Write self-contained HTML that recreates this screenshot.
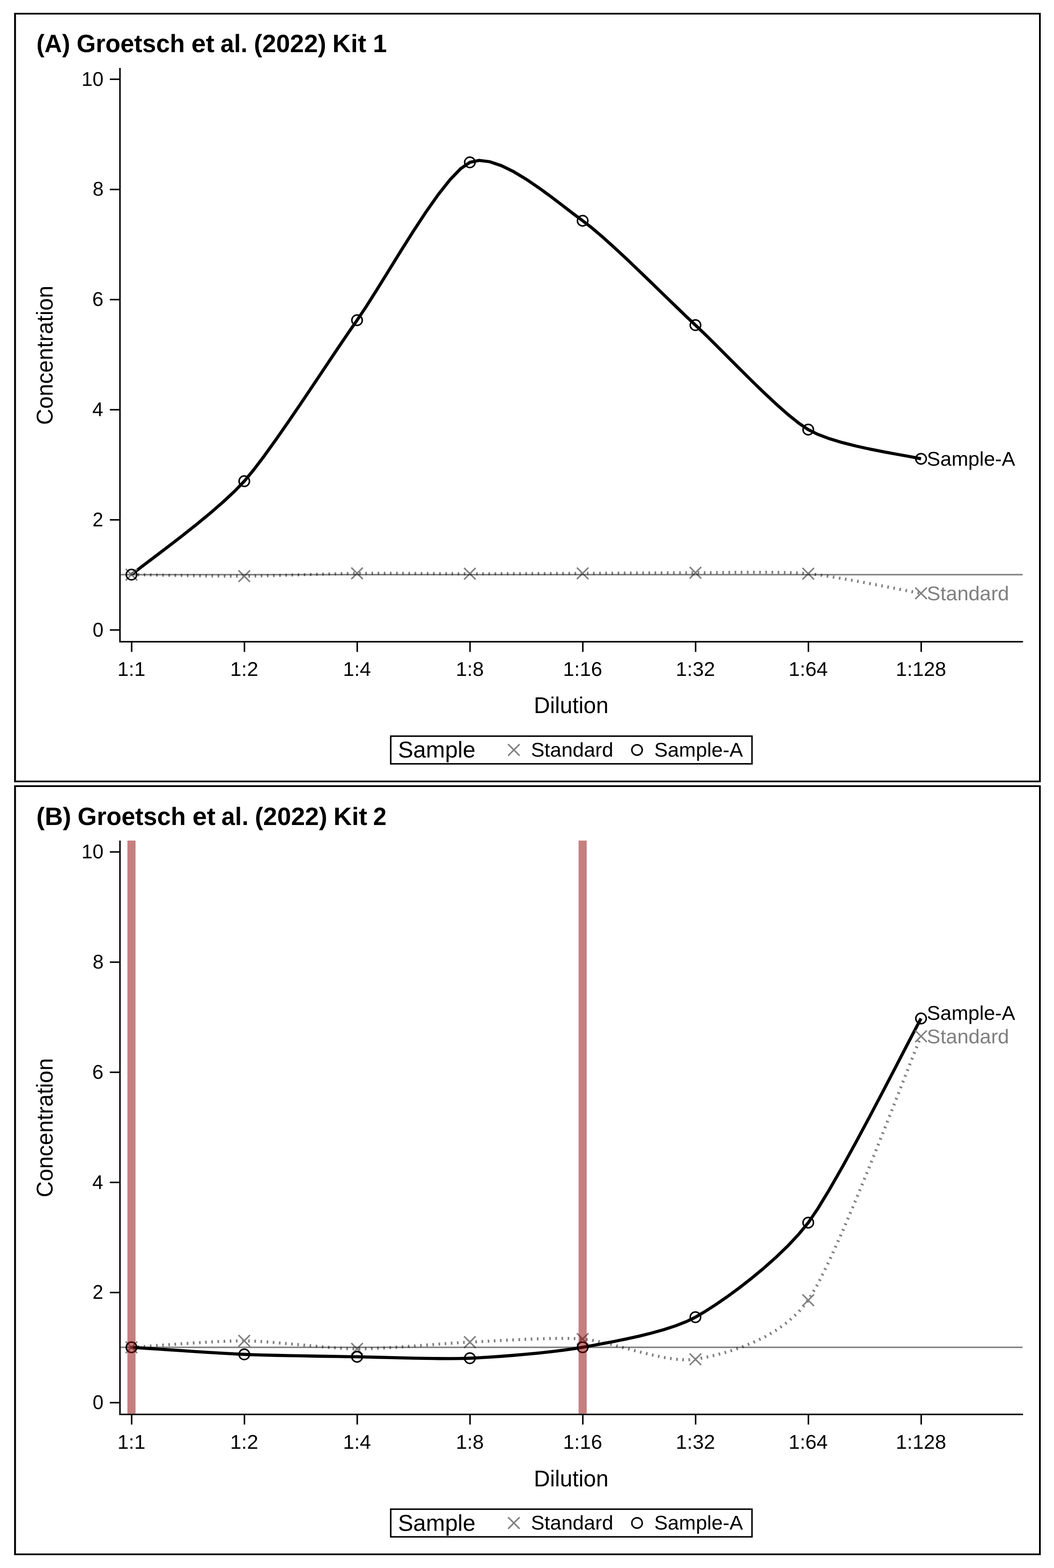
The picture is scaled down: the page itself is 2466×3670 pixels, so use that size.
<!DOCTYPE html>
<html lang="en">
<head>
<meta charset="utf-8">
<title>Groetsch et al. (2022) dilution linearity, Kit 1 and Kit 2</title>
<style>
html,body{margin:0;padding:0;background:#fff}
body{width:2466px;height:3670px;font-family:"Liberation Sans",sans-serif}
svg{display:block}
</style>
</head>
<body>
<svg width="2466" height="3670" viewBox="0 0 2466 3670" role="img" aria-label="Dilution linearity of Sample-A versus Standard for two ELISA kits" font-family="'Liberation Sans', sans-serif" text-rendering="geometricPrecision">
<rect width="2466" height="3670" fill="#fff"/>
<g id="panel-a">
<text y="122.40" font-size="58.8" font-weight="bold" fill="#000"><tspan x="85.16" textLength="78.93" lengthAdjust="spacingAndGlyphs">(A)</tspan> <tspan x="179.19" textLength="253.29" lengthAdjust="spacingAndGlyphs">Groetsch</tspan> <tspan x="447.77" textLength="53.99" lengthAdjust="spacingAndGlyphs">et</tspan> <tspan x="515.69" textLength="63.43" lengthAdjust="spacingAndGlyphs">al.</tspan> <tspan x="593.97" textLength="169.30" lengthAdjust="spacingAndGlyphs">(2022)</tspan> <tspan x="777.79" textLength="79.18" lengthAdjust="spacingAndGlyphs">Kit</tspan> <tspan x="872.54" textLength="32.70" lengthAdjust="spacingAndGlyphs">1</tspan></text>
<text transform="translate(122.80 994.42) rotate(-90) scale(0.9762 1)" font-size="53.6" fill="#000">Concentration</text>
<text transform="translate(1248.88 1669.30) scale(0.9775 1)" font-size="53.6" fill="#000">Dilution</text>
<polyline points="307.60,1345.00 321.22,1345.21 341.38,1345.56 366.68,1346.01 395.74,1346.51 427.18,1347.03 459.61,1347.52 491.64,1347.95 521.89,1348.28 548.97,1348.46 571.50,1348.45 593.14,1348.19 617.95,1347.69 645.13,1347.01 673.89,1346.20 703.45,1345.32 733.01,1344.43 761.77,1343.59 788.95,1342.86 813.76,1342.29 835.40,1341.95 857.04,1341.80 881.85,1341.77 909.03,1341.83 937.79,1341.96 967.35,1342.13 996.91,1342.32 1025.67,1342.52 1052.85,1342.68 1077.66,1342.80 1099.30,1342.84 1120.94,1342.82 1145.75,1342.78 1172.93,1342.70 1201.69,1342.61 1231.25,1342.50 1260.81,1342.39 1289.57,1342.27 1316.75,1342.15 1341.56,1342.05 1363.20,1341.95 1384.84,1341.84 1409.65,1341.68 1436.83,1341.49 1465.59,1341.29 1495.15,1341.08 1524.71,1340.89 1553.47,1340.72 1580.65,1340.59 1605.46,1340.51 1627.10,1340.50 1648.74,1340.42 1673.55,1340.18 1700.73,1339.87 1729.49,1339.57 1759.05,1339.37 1788.61,1339.34 1817.37,1339.58 1844.55,1340.16 1869.36,1341.17 1891.00,1342.70 1913.53,1345.31 1940.61,1349.27 1970.86,1354.24 2002.89,1359.89 2035.32,1365.88 2066.76,1371.85 2095.82,1377.48 2121.12,1382.42 2141.28,1386.32 2154.90,1388.85" fill="none" stroke="#808080" stroke-width="7.2" stroke-dasharray="3.8 10.6" stroke-linejoin="miter"/>
<polyline points="307.60,1345.00 321.22,1334.24 341.38,1318.90 366.68,1299.77 395.74,1277.65 427.18,1253.31 459.61,1227.57 491.64,1201.20 521.89,1175.00 548.97,1149.77 571.50,1126.30 593.14,1100.18 617.95,1067.48 645.13,1029.72 673.89,988.38 703.45,944.97 733.01,901.00 761.77,857.96 788.95,817.36 813.76,780.71 835.40,749.50 857.04,717.27 881.85,678.04 909.03,634.05 937.79,587.52 967.35,540.68 996.91,495.77 1025.67,455.01 1052.85,420.65 1077.66,394.90 1099.30,380.00 1120.94,375.47 1145.75,378.47 1172.93,387.69 1201.69,401.83 1231.25,419.58 1260.81,439.63 1289.57,460.67 1316.75,481.40 1341.56,500.51 1363.20,516.70 1384.84,533.46 1409.65,554.53 1436.83,578.92 1465.59,605.67 1495.15,633.80 1524.71,662.33 1553.47,690.29 1580.65,716.70 1605.46,740.60 1627.10,761.00 1648.74,781.64 1673.55,806.14 1700.73,833.36 1729.49,862.19 1759.05,891.50 1788.61,920.14 1817.37,946.99 1844.55,970.92 1869.36,990.80 1891.00,1005.50 1913.53,1016.69 1940.61,1026.81 1970.86,1035.91 2002.89,1044.01 2035.32,1051.16 2066.76,1057.39 2095.82,1062.75 2121.12,1067.26 2141.28,1070.96 2154.90,1073.90" fill="none" stroke="#000" stroke-width="7.3" stroke-linejoin="miter"/>
<path d="M294.10 1331.50L321.10 1358.50M294.10 1358.50L321.10 1331.50M558.00 1334.95L585.00 1361.95M558.00 1361.95L585.00 1334.95M821.90 1328.45L848.90 1355.45M821.90 1355.45L848.90 1328.45M1085.80 1329.34L1112.80 1356.34M1085.80 1356.34L1112.80 1329.34M1349.70 1328.45L1376.70 1355.45M1349.70 1355.45L1376.70 1328.45M1613.60 1327.00L1640.60 1354.00M1613.60 1354.00L1640.60 1327.00M1877.50 1329.20L1904.50 1356.20M1877.50 1356.20L1904.50 1329.20M2141.40 1375.35L2168.40 1402.35M2141.40 1402.35L2168.40 1375.35" fill="none" stroke="#808080" stroke-width="3.5"/>
<circle cx="307.60" cy="1345.00" r="12.2" fill="none" stroke="#000" stroke-width="3.5"/>
<circle cx="571.50" cy="1126.30" r="12.2" fill="none" stroke="#000" stroke-width="3.5"/>
<circle cx="835.40" cy="749.50" r="12.2" fill="none" stroke="#000" stroke-width="3.5"/>
<circle cx="1099.30" cy="380.00" r="12.2" fill="none" stroke="#000" stroke-width="3.5"/>
<circle cx="1363.20" cy="516.70" r="12.2" fill="none" stroke="#000" stroke-width="3.5"/>
<circle cx="1627.10" cy="761.00" r="12.2" fill="none" stroke="#000" stroke-width="3.5"/>
<circle cx="1891.00" cy="1005.50" r="12.2" fill="none" stroke="#000" stroke-width="3.5"/>
<circle cx="2154.90" cy="1073.90" r="12.2" fill="none" stroke="#000" stroke-width="3.5"/>
<line x1="282.45" y1="1345.00" x2="2392.50" y2="1345.00" stroke="#000" stroke-opacity="0.5" stroke-width="3.4"/>
<text transform="translate(2168.58 1090.00) scale(1.0118 1)" font-size="46.5" fill="#000">Sample-A</text>
<text transform="translate(2168.57 1404.50) scale(1.0186 1)" font-size="46.5" fill="#808080">Standard</text>
<path d="M280.70 158.90V1501.90H2393.50" fill="none" stroke="#000" stroke-width="3.5" stroke-linejoin="miter"/>
<path d="M256.95 1474.60H280.70M256.95 1216.80H280.70M256.95 959.00H280.70M256.95 701.20H280.70M256.95 443.40H280.70M256.95 185.60H280.70M308.00 1501.90V1525.65M571.90 1501.90V1525.65M835.80 1501.90V1525.65M1099.70 1501.90V1525.65M1363.60 1501.90V1525.65M1627.50 1501.90V1525.65M1891.40 1501.90V1525.65M2155.30 1501.90V1525.65" fill="none" stroke="#000" stroke-width="3.5"/>
<text transform="translate(216.77 1489.60) scale(0.9818 1)" font-size="46.5" fill="#000">0</text>
<text transform="translate(216.55 1231.80) scale(0.9689 1)" font-size="46.5" fill="#000">2</text>
<text transform="translate(215.97 974.00) scale(0.9837 1)" font-size="46.5" fill="#000">4</text>
<text transform="translate(215.83 716.20) scale(1.0183 1)" font-size="46.5" fill="#000">6</text>
<text transform="translate(216.63 458.40) scale(0.9975 1)" font-size="46.5" fill="#000">8</text>
<text transform="translate(190.83 200.60) scale(0.9939 1)" font-size="46.5" fill="#000">10</text>
<text transform="translate(307.50 1581.90) scale(1.0150 1)" text-anchor="middle" font-size="46.5" fill="#000">1:1</text>
<text transform="translate(571.40 1581.90) scale(1.0150 1)" text-anchor="middle" font-size="46.5" fill="#000">1:2</text>
<text transform="translate(835.30 1581.90) scale(1.0150 1)" text-anchor="middle" font-size="46.5" fill="#000">1:4</text>
<text transform="translate(1099.20 1581.90) scale(1.0150 1)" text-anchor="middle" font-size="46.5" fill="#000">1:8</text>
<text transform="translate(1363.10 1581.90) scale(1.0150 1)" text-anchor="middle" font-size="46.5" fill="#000">1:16</text>
<text transform="translate(1627.00 1581.90) scale(1.0150 1)" text-anchor="middle" font-size="46.5" fill="#000">1:32</text>
<text transform="translate(1890.90 1581.90) scale(1.0150 1)" text-anchor="middle" font-size="46.5" fill="#000">1:64</text>
<text transform="translate(2154.80 1581.90) scale(1.0150 1)" text-anchor="middle" font-size="46.5" fill="#000">1:128</text>
<rect x="914.2" y="1723.00" width="845.2" height="64.8" fill="#fff" stroke="#000" stroke-width="3.5"/>
<text transform="translate(931.19 1773.30) scale(0.9977 1)" font-size="53.6" fill="#000">Sample</text>
<path d="M1188.75 1741.85L1215.75 1768.85M1188.75 1768.85L1215.75 1741.85" fill="none" stroke="#808080" stroke-width="3.5"/>
<text transform="translate(1242.16 1770.50) scale(1.0208 1)" font-size="46.5" fill="#000">Standard</text>
<circle cx="1490.45" cy="1755.35" r="12.2" fill="none" stroke="#000" stroke-width="3.5"/>
<text transform="translate(1530.77 1770.50) scale(1.0157 1)" font-size="46.5" fill="#000">Sample-A</text>
</g>
<g id="panel-b" transform="translate(0 1808.5)">
<text y="122.40" font-size="58.8" font-weight="bold" fill="#000"><tspan x="85.06" textLength="81.62" lengthAdjust="spacingAndGlyphs">(B)</tspan> <tspan x="181.59" textLength="253.29" lengthAdjust="spacingAndGlyphs">Groetsch</tspan> <tspan x="450.17" textLength="53.99" lengthAdjust="spacingAndGlyphs">et</tspan> <tspan x="518.09" textLength="63.43" lengthAdjust="spacingAndGlyphs">al.</tspan> <tspan x="596.37" textLength="169.30" lengthAdjust="spacingAndGlyphs">(2022)</tspan> <tspan x="780.19" textLength="79.18" lengthAdjust="spacingAndGlyphs">Kit</tspan> <tspan x="873.03" textLength="31.28" lengthAdjust="spacingAndGlyphs">2</tspan></text>
<text transform="translate(122.80 993.92) rotate(-90) scale(0.9762 1)" font-size="53.6" fill="#000">Concentration</text>
<text transform="translate(1248.88 1670.40) scale(0.9775 1)" font-size="53.6" fill="#000">Dilution</text>
<polyline points="307.60,1345.00 321.22,1344.10 341.38,1342.65 366.68,1340.79 395.74,1338.70 427.18,1336.52 459.61,1334.41 491.64,1332.53 521.89,1331.03 548.97,1330.06 571.50,1329.80 593.14,1330.43 617.95,1331.89 645.13,1333.99 673.89,1336.50 703.45,1339.23 733.01,1341.95 761.77,1344.46 788.95,1346.54 813.76,1347.99 835.40,1348.60 857.04,1348.33 881.85,1347.38 909.03,1345.90 937.79,1344.03 967.35,1341.92 996.91,1339.72 1025.67,1337.56 1052.85,1335.59 1077.66,1333.95 1099.30,1332.80 1120.94,1331.76 1145.75,1330.45 1172.93,1329.00 1201.69,1327.54 1231.25,1326.18 1260.81,1325.07 1289.57,1324.32 1316.75,1324.05 1341.56,1324.41 1363.20,1325.50 1384.84,1328.36 1409.65,1333.46 1436.83,1340.12 1465.59,1347.66 1495.15,1355.39 1524.71,1362.63 1553.47,1368.69 1580.65,1372.90 1605.46,1374.56 1627.10,1373.00 1648.74,1368.93 1673.55,1363.34 1700.73,1356.01 1729.49,1346.67 1759.05,1335.08 1788.61,1321.00 1817.37,1304.18 1844.55,1284.37 1869.36,1261.32 1891.00,1234.80 1913.53,1196.63 1940.61,1141.69 1970.86,1074.30 2002.89,998.79 2035.32,919.47 2066.76,840.67 2095.82,766.72 2121.12,701.92 2141.28,650.61 2154.90,617.10" fill="none" stroke="#808080" stroke-width="7.2" stroke-dasharray="3.8 10.6" stroke-linejoin="miter"/>
<polyline points="307.60,1345.00 321.22,1345.89 341.38,1347.24 366.68,1348.95 395.74,1350.90 427.18,1352.98 459.61,1355.09 491.64,1357.10 521.89,1358.92 548.97,1360.42 571.50,1361.50 593.14,1362.30 617.95,1363.05 645.13,1363.74 673.89,1364.38 703.45,1364.97 733.01,1365.51 761.77,1366.00 788.95,1366.44 813.76,1366.84 835.40,1367.20 857.04,1367.64 881.85,1368.24 909.03,1368.94 937.79,1369.65 967.35,1370.32 996.91,1370.87 1025.67,1371.23 1052.85,1371.34 1077.66,1371.12 1099.30,1370.50 1120.94,1369.43 1145.75,1367.92 1172.93,1366.01 1201.69,1363.74 1231.25,1361.16 1260.81,1358.30 1289.57,1355.20 1316.75,1351.91 1341.56,1348.46 1363.20,1344.90 1384.84,1340.99 1409.65,1336.46 1436.83,1331.28 1465.59,1325.42 1495.15,1318.85 1524.71,1311.54 1553.47,1303.48 1580.65,1294.63 1605.46,1284.96 1627.10,1274.45 1648.74,1261.75 1673.55,1245.83 1700.73,1227.10 1729.49,1205.99 1759.05,1182.92 1788.61,1158.33 1817.37,1132.64 1844.55,1106.27 1869.36,1079.65 1891.00,1053.20 1913.53,1020.20 1940.61,975.67 1970.86,922.72 2002.89,864.43 2035.32,803.88 2066.76,744.16 2095.82,688.35 2121.12,639.55 2141.28,600.84 2154.90,575.30" fill="none" stroke="#000" stroke-width="7.3" stroke-linejoin="miter"/>
<path d="M294.10 1331.50L321.10 1358.50M294.10 1358.50L321.10 1331.50M558.00 1316.30L585.00 1343.30M558.00 1343.30L585.00 1316.30M821.90 1335.10L848.90 1362.10M821.90 1362.10L848.90 1335.10M1085.80 1319.30L1112.80 1346.30M1085.80 1346.30L1112.80 1319.30M1349.70 1312.00L1376.70 1339.00M1349.70 1339.00L1376.70 1312.00M1613.60 1359.50L1640.60 1386.50M1613.60 1386.50L1640.60 1359.50M1877.50 1221.30L1904.50 1248.30M1877.50 1248.30L1904.50 1221.30M2141.40 603.60L2168.40 630.60M2141.40 630.60L2168.40 603.60" fill="none" stroke="#808080" stroke-width="3.5"/>
<circle cx="307.60" cy="1345.00" r="12.2" fill="none" stroke="#000" stroke-width="3.5"/>
<circle cx="571.50" cy="1361.50" r="12.2" fill="none" stroke="#000" stroke-width="3.5"/>
<circle cx="835.40" cy="1367.20" r="12.2" fill="none" stroke="#000" stroke-width="3.5"/>
<circle cx="1099.30" cy="1370.50" r="12.2" fill="none" stroke="#000" stroke-width="3.5"/>
<circle cx="1363.20" cy="1344.90" r="12.2" fill="none" stroke="#000" stroke-width="3.5"/>
<circle cx="1627.10" cy="1274.45" r="12.2" fill="none" stroke="#000" stroke-width="3.5"/>
<circle cx="1891.00" cy="1053.20" r="12.2" fill="none" stroke="#000" stroke-width="3.5"/>
<circle cx="2154.90" cy="575.30" r="12.2" fill="none" stroke="#000" stroke-width="3.5"/>
<line x1="282.45" y1="1345.00" x2="2392.50" y2="1345.00" stroke="#000" stroke-opacity="0.5" stroke-width="3.4"/>
<text transform="translate(2168.58 578.50) scale(1.0118 1)" font-size="46.5" fill="#000">Sample-A</text>
<text transform="translate(2168.57 633.40) scale(1.0186 1)" font-size="46.5" fill="#808080">Standard</text>
<rect x="298.10" y="158.90" width="19" height="1341.25" fill="#8b0000" fill-opacity="0.5"/>
<rect x="1353.70" y="158.90" width="19" height="1341.25" fill="#8b0000" fill-opacity="0.5"/>
<path d="M280.70 158.90V1501.90H2393.50" fill="none" stroke="#000" stroke-width="3.5" stroke-linejoin="miter"/>
<path d="M256.95 1474.60H280.70M256.95 1216.80H280.70M256.95 959.00H280.70M256.95 701.20H280.70M256.95 443.40H280.70M256.95 185.60H280.70M308.00 1501.90V1525.65M571.90 1501.90V1525.65M835.80 1501.90V1525.65M1099.70 1501.90V1525.65M1363.60 1501.90V1525.65M1627.50 1501.90V1525.65M1891.40 1501.90V1525.65M2155.30 1501.90V1525.65" fill="none" stroke="#000" stroke-width="3.5"/>
<text transform="translate(216.77 1489.60) scale(0.9818 1)" font-size="46.5" fill="#000">0</text>
<text transform="translate(216.55 1231.80) scale(0.9689 1)" font-size="46.5" fill="#000">2</text>
<text transform="translate(215.97 974.00) scale(0.9837 1)" font-size="46.5" fill="#000">4</text>
<text transform="translate(215.83 716.20) scale(1.0183 1)" font-size="46.5" fill="#000">6</text>
<text transform="translate(216.63 458.40) scale(0.9975 1)" font-size="46.5" fill="#000">8</text>
<text transform="translate(190.83 200.60) scale(0.9939 1)" font-size="46.5" fill="#000">10</text>
<text transform="translate(307.50 1582.20) scale(1.0150 1)" text-anchor="middle" font-size="46.5" fill="#000">1:1</text>
<text transform="translate(571.40 1582.20) scale(1.0150 1)" text-anchor="middle" font-size="46.5" fill="#000">1:2</text>
<text transform="translate(835.30 1582.20) scale(1.0150 1)" text-anchor="middle" font-size="46.5" fill="#000">1:4</text>
<text transform="translate(1099.20 1582.20) scale(1.0150 1)" text-anchor="middle" font-size="46.5" fill="#000">1:8</text>
<text transform="translate(1363.10 1582.20) scale(1.0150 1)" text-anchor="middle" font-size="46.5" fill="#000">1:16</text>
<text transform="translate(1627.00 1582.20) scale(1.0150 1)" text-anchor="middle" font-size="46.5" fill="#000">1:32</text>
<text transform="translate(1890.90 1582.20) scale(1.0150 1)" text-anchor="middle" font-size="46.5" fill="#000">1:64</text>
<text transform="translate(2154.80 1582.20) scale(1.0150 1)" text-anchor="middle" font-size="46.5" fill="#000">1:128</text>
<rect x="914.2" y="1723.80" width="845.2" height="64.8" fill="#fff" stroke="#000" stroke-width="3.5"/>
<text transform="translate(931.19 1774.10) scale(0.9977 1)" font-size="53.6" fill="#000">Sample</text>
<path d="M1188.75 1742.65L1215.75 1769.65M1188.75 1769.65L1215.75 1742.65" fill="none" stroke="#808080" stroke-width="3.5"/>
<text transform="translate(1242.16 1771.30) scale(1.0208 1)" font-size="46.5" fill="#000">Standard</text>
<circle cx="1490.45" cy="1756.15" r="12.2" fill="none" stroke="#000" stroke-width="3.5"/>
<text transform="translate(1530.77 1771.30) scale(1.0157 1)" font-size="46.5" fill="#000">Sample-A</text>
</g>
<path fill="#000" fill-rule="evenodd" d="M33 30H2435V1831H33ZM37.35 34H2431V1827H37.35Z"/>
<path fill="#000" fill-rule="evenodd" d="M33 1838H2435V3640H33ZM37.35 1842H2431V3636H37.35Z"/>
</svg>
</body>
</html>
